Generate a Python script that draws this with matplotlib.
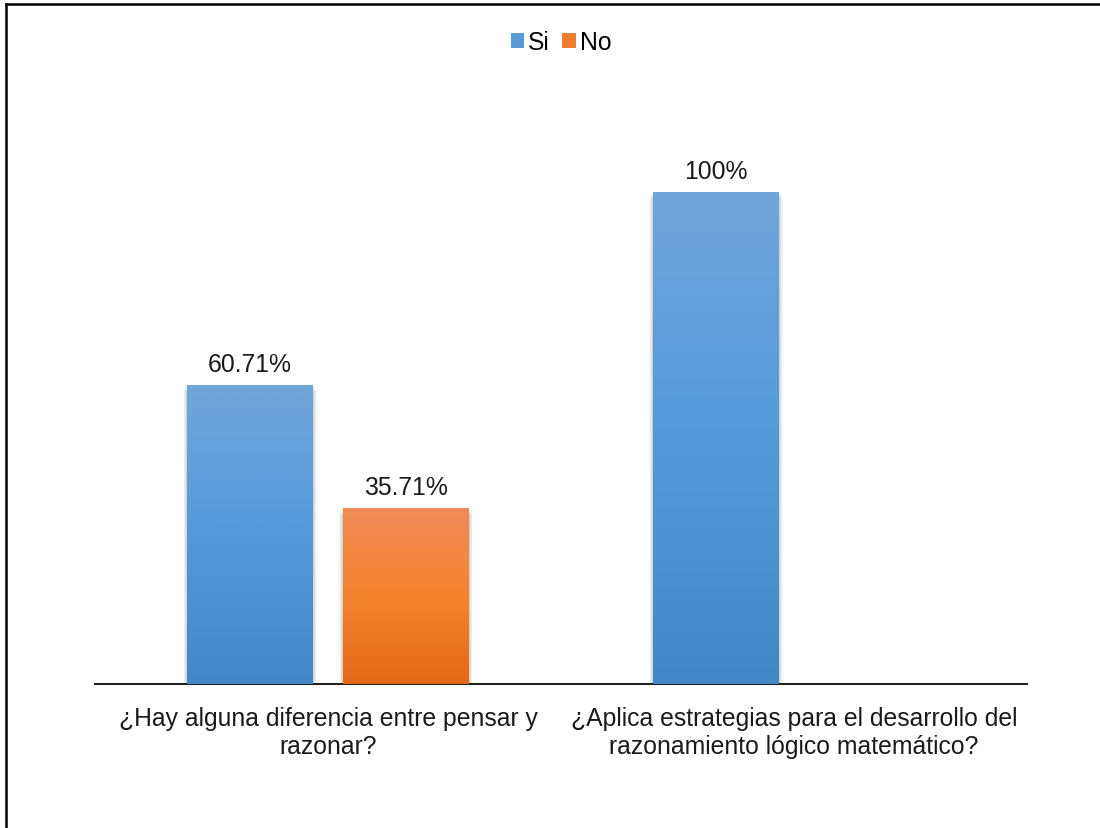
import matplotlib
matplotlib.use("Agg")
import matplotlib.pyplot as plt
import numpy as np
from matplotlib.colors import LinearSegmentedColormap
from matplotlib.lines import Line2D
from matplotlib.patches import Rectangle

plt.rcParams['font.family'] = ['Liberation Sans', 'DejaVu Sans']

# survey answers, percent
preguntas = ["¿Hay alguna diferencia entre pensar y\nrazonar?",
             "¿Aplica estrategias para el desarrollo del\nrazonamiento lógico matemático?"]
si = [60.71, 100]
no = [35.71, np.nan]
etiquetas_si = ["60.71%", "100%"]
etiquetas_no = ["35.71%", ""]

W, H = 1100, 829
FS = 17.8
fig = plt.figure(figsize=(W / 100, H / 100), dpi=100)
ax = fig.add_axes([95 / W, 144 / H, 932 / W, 590.4 / H])

grad_si = LinearSegmentedColormap.from_list("si", ["#4287c7", "#549ada", "#71a6da"])
grad_no = LinearSegmentedColormap.from_list("no", ["#e36917", "#f5832f", "#f08c58"])

x = np.arange(len(preguntas))
ancho = 0.27
desp = 0.167
ax.set_xlim(-0.5, 1.5)
ax.set_ylim(0, 120)


def barra(xc, h, cmap, texto):
    if np.isnan(h):
        return
    x0, x1 = xc - ancho / 2, xc + ancho / 2
    # soft shadow on the sides of the bar
    for i, a in enumerate([0.03, 0.04, 0.05, 0.06]):
        pad = (4 - i) * 0.002
        ax.add_patch(Rectangle((x0 - pad, 0), (x1 - x0) + 2 * pad, h - 0.3 * (4 - i),
                               facecolor="black", alpha=a, lw=0, zorder=1))
    r = ax.bar(xc, h, ancho, color="none", lw=0, zorder=2)[0]
    g = np.linspace(0, 1, 256).reshape(-1, 1)
    im = ax.imshow(g, cmap=cmap, extent=[x0, x1, 0, h], origin="lower",
                   aspect="auto", zorder=3, interpolation="bilinear")
    im.set_clip_path(r)
    ax.annotate(texto, (xc, h), xytext=(0, 10), textcoords="offset points",
                ha="center", va="baseline", fontsize=FS, color="#1a1a1a")


for i in range(len(preguntas)):
    barra(x[i] - desp, si[i], grad_si, etiquetas_si[i])
    barra(x[i] + desp, no[i], grad_no, etiquetas_no[i])

ax.set_xlim(-0.5, 1.5)
ax.set_ylim(0, 120)

for s in ["top", "left", "right"]:
    ax.spines[s].set_visible(False)
ax.spines["bottom"].set_color("#1a1a1a")
ax.spines["bottom"].set_linewidth(1.4)
ax.set_yticks([])
ax.set_xticks(x, preguntas, fontsize=FS, color="#1a1a1a", linespacing=1.2)
ax.tick_params(axis="x", length=0, pad=16)

handles = [Rectangle((0, 0), 1, 1, facecolor="#5b9bd5"),
           Rectangle((0, 0), 1, 1, facecolor="#ed7d31")]
fig.legend(handles, ["Si", "No"], loc="center", bbox_to_anchor=(0.51, 1 - 43 / H),
           ncol=2, frameon=False, fontsize=FS, handlelength=0.55, handleheight=0.55,
           handletextpad=0.15, columnspacing=0.5)

# frame around the chart
fig.add_artist(Line2D([6 / W, 6 / W], [0, 1 - 5 / H], color="black", lw=1.8,
                      transform=fig.transFigure))
fig.add_artist(Line2D([6 / W, 1], [1 - 5 / H, 1 - 5 / H], color="black", lw=1.8,
                      transform=fig.transFigure))

fig.savefig("out.png", dpi=100)
